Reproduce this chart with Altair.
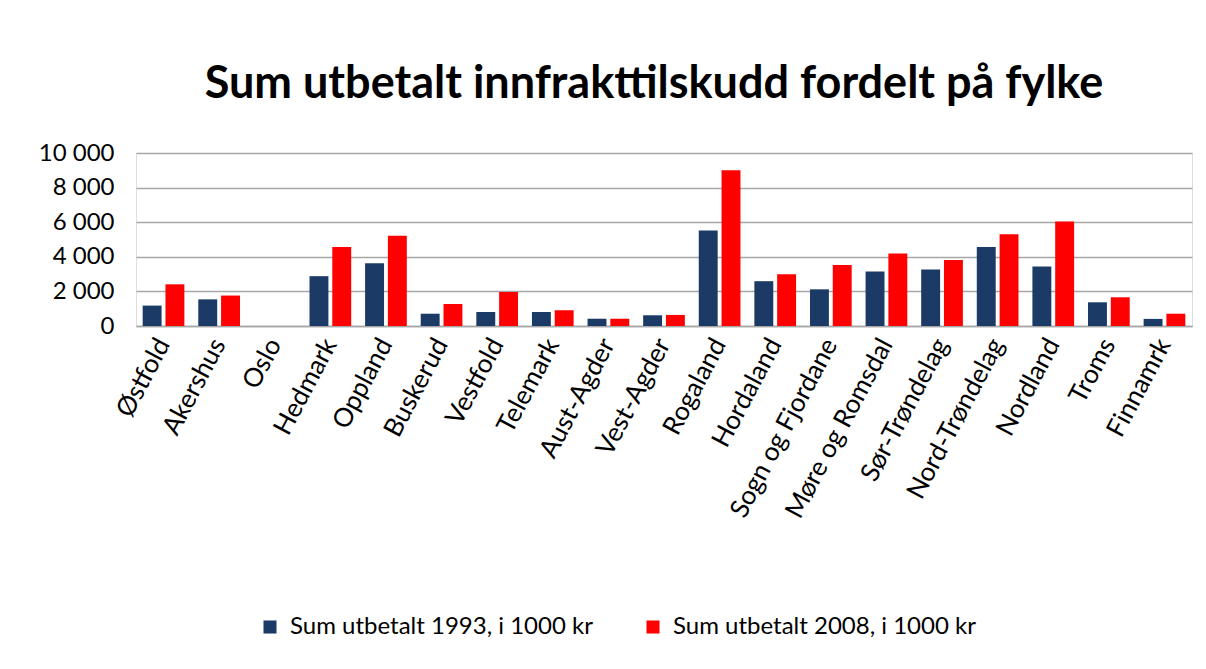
import altair as alt
import pandas as pd

counties = ["Østfold", "Akershus", "Oslo", "Hedmark", "Oppland", "Buskerud",
            "Vestfold", "Telemark", "Aust-Agder", "Vest-Agder", "Rogaland",
            "Hordaland", "Sogn og Fjordane", "Møre og Romsdal", "Sør-Trøndelag",
            "Nord-Trøndelag", "Nordland", "Troms", "Finnamrk"]
sum_1993 = [1180, 1540, 0, 2880, 3630, 710, 810, 810, 420, 620, 5520,
            2590, 2120, 3150, 3260, 4560, 3440, 1370, 410]
sum_2008 = [2410, 1760, 0, 4560, 5210, 1270, 1970, 910, 420, 640, 9000,
            2990, 3530, 4190, 3820, 5310, 6040, 1660, 710]
series = ["Sum utbetalt 1993, i 1000 kr", "Sum utbetalt 2008, i 1000 kr"]
colors = ["#1B3A66", "#FF0000"]

rows = []
for i, c in enumerate(counties):
    rows.append({"fylke": c, "serie": series[0], "verdi": sum_1993[i]})
    rows.append({"fylke": c, "serie": series[1], "verdi": sum_2008[i]})
df = pd.DataFrame(rows)

FONT = "Lato"

chart = alt.Chart(df).mark_bar().encode(
    x=alt.X("fylke:N", sort=counties, title=None,
            scale=alt.Scale(paddingInner=0.25, paddingOuter=0.12),
            axis=alt.Axis(labelAngle=-62, labelAlign="right", labelBaseline="middle",
                          labelFontSize=26, labelFont=FONT, labelColor="#000000",
                          labelPadding=14, ticks=False, domainColor="#A6A6A6",
                          domainWidth=1.5, labelLimit=300)),
    xOffset=alt.XOffset("serie:N", sort=series,
                        scale=alt.Scale(paddingInner=0.17)),
    y=alt.Y("verdi:Q", title=None,
            scale=alt.Scale(domain=[0, 10000]),
            axis=alt.Axis(values=[0, 2000, 4000, 6000, 8000, 10000],
                          labelExpr="replace(format(datum.value, ','), ',', ' ')",
                          labelFontSize=24, labelFont=FONT, labelColor="#000000",
                          labelPadding=22, ticks=False, domain=False,
                          gridColor="#A6A6A6", gridWidth=1.5)),
    color=alt.Color("serie:N", sort=series, title=None,
                    scale=alt.Scale(domain=series, range=colors),
                    legend=alt.Legend(orient="none", legendX=122, legendY=462,
                                      direction="horizontal", symbolType="square",
                                      symbolSize=170, labelFontSize=24, labelFont=FONT,
                                      labelColor="#000000", columnPadding=48,
                                      labelOffset=8, labelLimit=500,
                                      symbolStrokeWidth=0)),
).properties(
    width=1056, height=173,
    title=alt.Title("Sum utbetalt innfrakttilskudd fordelt på fylke",
                    fontSize=45, font=FONT, fontWeight="bold", color="#000000",
                    anchor="middle", offset=34, dx=-10),
    autosize=alt.AutoSizeParams(type="none"),
    padding={"left": 128, "top": 145, "right": 6, "bottom": 335},
).configure_view(stroke=None).configure(background="white")

chart.save("out.html", embed_options={"renderer": "svg", "actions": False})
